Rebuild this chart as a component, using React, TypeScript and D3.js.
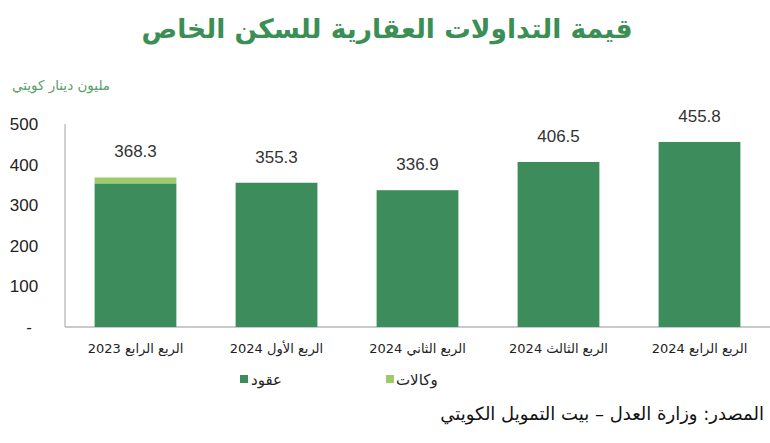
import React from "react";
import * as d3 from "d3";

const categories = ["الربع الرابع 2023", "الربع الأول 2024", "الربع الثاني 2024", "الربع الثالث 2024", "الربع الرابع 2024"];
const contracts = [353.8, 355.3, 336.9, 406.5, 455.8];
const agencies = [14.5, 0, 0, 0, 0];
const totals = [368.3, 355.3, 336.9, 406.5, 455.8];
const yTicks = [0, 100, 200, 300, 400, 500];
const yTickLabels = ["-", "100", "200", "300", "400", "500"];
const seriesNames = ["عقود", "وكالات"];
const title = "قيمة التداولات العقارية للسكن الخاص";
const unitLabel = "مليون دينار كويتي";
const sourceText = "المصدر: وزارة العدل – بيت التمويل الكويتي";

const W = 770;
const H = 443;
const DARK = "#3d8c5b";
const LIGHT = "#9dcb6a";

export default function App() {
  const left = 65;
  const right = 770;
  const top = 124;
  const bottom = 327;
  const x = d3.scaleBand<string>().domain(categories).range([left, right]).paddingInner(0.42).paddingOuter(0.21);
  const y = d3.scaleLinear().domain([0, 500]).range([bottom, top]);
  const font = "'Liberation Sans', Arial, 'DejaVu Sans', sans-serif";
  const arFont = "'DejaVu Sans', sans-serif";

  return (
    <svg width={W} height={H} style={{ position: "absolute", left: 0, top: 0, background: "#fff" }}>
      <text x={387} y={38} textAnchor="middle" fontFamily={arFont} fontWeight="bold" fontSize={26.5} fill="#3b8f55" direction="rtl">
        {title}
      </text>
      <text x={61} y={90} textAnchor="middle" fontFamily={arFont} fontSize={13.5} fill="#5a9e6a" direction="rtl">
        {unitLabel}
      </text>
      {/* axes */}
      <line x1={left} x2={left} y1={top} y2={bottom} stroke="#b8b8b8" strokeWidth={1.3} />
      <line x1={left} x2={right} y1={bottom} y2={bottom} stroke="#b8b8b8" strokeWidth={1.3} />
      {yTicks.map((t, i) => (
        <text key={t} x={i === 0 ? 29 : 24} y={y(t) + 6} textAnchor="middle" fontFamily={font} fontSize={17} fill="#222">
          {yTickLabels[i]}
        </text>
      ))}
      {categories.map((c, i) => {
        const bx = x(c)!;
        const bw = x.bandwidth();
        return (
          <g key={c}>
            <rect x={bx} width={bw} y={y(contracts[i])} height={bottom - y(contracts[i])} fill={DARK} />
            {agencies[i] > 0 && (
              <rect x={bx} width={bw} y={y(contracts[i] + agencies[i])} height={y(contracts[i]) - y(contracts[i] + agencies[i])} fill={LIGHT} />
            )}
            <text x={bx + bw / 2} y={y(totals[i]) - 20} textAnchor="middle" fontFamily={font} fontSize={17} fill="#333">
              {totals[i].toFixed(1)}
            </text>
            <text x={bx + bw / 2} y={353} textAnchor="middle" fontFamily={arFont} fontSize={13} fill="#222" direction="rtl">
              {c}
            </text>
          </g>
        );
      })}
      {/* legend */}
      <rect x={240} y={375} width={8} height={8} fill={DARK} />
      <text x={251} y={385} textAnchor="start" fontFamily={arFont} fontSize={15} fill="#222">
        {seriesNames[0]}
      </text>
      <rect x={386} y={375} width={8} height={8} fill={LIGHT} />
      <text x={396} y={385} textAnchor="start" fontFamily={arFont} fontSize={15} fill="#222">
        {seriesNames[1]}
      </text>
      <text x={764} y={420} textAnchor="start" fontFamily={arFont} fontSize={18} fill="#111" direction="rtl">
        {sourceText}
      </text>
    </svg>
  );
}
